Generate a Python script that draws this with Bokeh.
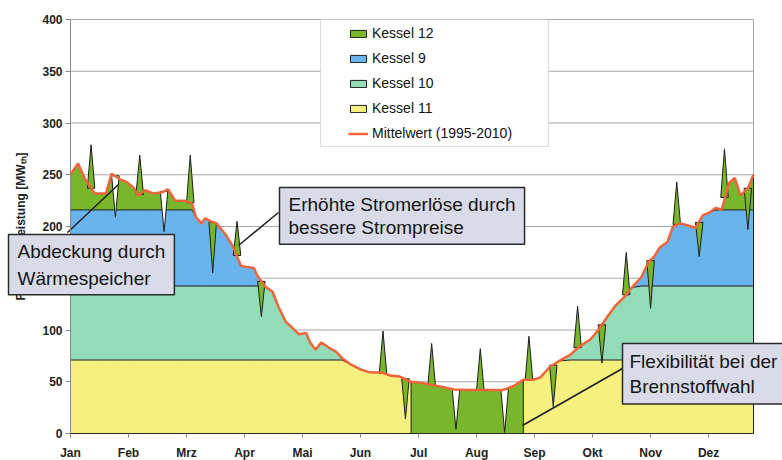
import numpy as np
from bokeh.plotting import figure
from bokeh.models import (Range1d, FixedTicker, Legend, LegendItem, Label,
                          BoxAnnotation)
from bokeh.embed import file_html
from bokeh.resources import INLINE

# ---------------- data ----------------
month_labels = ["Jan", "Feb", "Mrz", "Apr", "Mai", "Jun",
                "Jul", "Aug", "Sep", "Okt", "Nov", "Dez"]
month_ticks = [0, 31, 62, 93, 124, 155, 186, 217, 248, 279, 310, 341]
y_ticks = [0, 50, 100, 150, 200, 250, 300, 350, 400]

days = [0, 4, 8, 13, 19, 22, 27, 30, 34, 36, 40, 44, 49, 52, 56, 61, 65, 67,
        70, 72, 75, 78, 83, 87, 91, 94, 98, 100, 104, 108, 111, 115, 118, 122,
        126, 128, 131, 134, 138, 142, 145, 150, 155, 160, 166, 171, 176, 182,
        187, 196, 205, 214, 223, 231, 237, 242, 247, 251, 256, 261, 267, 272,
        278, 282, 287, 291, 296, 300, 305, 309, 312, 315, 319, 322, 326, 330,
        334, 338, 341, 345, 348, 352, 355, 358, 362, 365]
mittelwert = [250, 261, 245, 232, 232, 251, 245, 243, 237, 230, 235, 232, 233,
              236, 225, 225, 222, 209, 203, 208, 205, 203, 192, 180, 162, 161,
              160, 152, 142, 137, 123, 108, 103, 96, 97, 88, 81, 88, 83, 79, 73,
              66.5, 62, 59, 59, 56, 55, 50, 49, 46, 42.5, 42, 42, 42, 46, 52,
              52, 54, 64, 70, 76, 84, 91, 100, 113, 123, 132, 141, 151, 166,
              171, 180, 185, 200, 203, 201, 198.5, 211, 213, 218, 216, 242,
              247, 230, 237, 250]

# cumulative capacity levels of the base boilers
cap_k11 = 71
cap_k10 = 142.5
cap_k9 = 216
# summer period in which Kessel 12 carries the whole load
summer_start = 182
summer_end = 242

# Kessel 12 peaks above the mean load
up_day = [11, 37, 64, 89, 167, 193, 219, 245, 271, 297, 324, 349.5]
up_base = [237, 231, 223, 172, 58, 47, 42, 52, 83, 134, 202, 228]
up_peak = [279, 269, 269, 205, 99, 87, 82, 94, 123, 175, 243, 275]

# Kessel 12 replacing a base boiler for a day
sub_day = [76, 102, 179, 258, 284, 310, 336, 362]
sub_base = [204, 147, 53, 66, 105, 167, 204, 237]
sub_bottom = [155, 113, 14, 26, 68, 121, 171, 197]

# days covered by the heat storage
gap_day = [24, 50, 206, 232]
gap_base = [249, 234, 42.5, 42.5]
gap_bottom = [209, 195, 4, 1]

# ---------------- styles ----------------
C_K12 = "#78b62c"
C_K9 = "#6ab4ee"
C_K10 = "#92dcb8"
C_K11 = "#f6f07e"
C_LINE = "#f0643a"
C_EDGE = "#1e1e1e"
C_BOX = "#d9dbe8"
C_GRID = "#a8a8a8"
FONT = "Liberation Sans"
HW = 2.0  # half width of a one-day spike

W, H = 782, 460
# plot area (data 0..365 / 0..400) in canvas pixels
FL, FR, FT, FB = 70.0, 753.0, 19.0, 433.0
X0, X1 = 0.0, 365.0
Y0, Y1 = 0.0, 400.0
def dx(px):
    return X0 + (px - FL) / (FR - FL) * (X1 - X0)
def dy(py):
    return Y0 + (FB - py) / (FB - FT) * (Y1 - Y0)

p = figure(width=W, height=H, output_backend="svg", toolbar_location=None,
           x_range=Range1d(dx(0), dx(W)), y_range=Range1d(dy(H), dy(0)))
p.min_border_left = 0
p.min_border_right = 0
p.min_border_top = 0
p.min_border_bottom = 0
p.outline_line_color = None
p.background_fill_color = "white"
p.border_fill_color = "white"
p.xgrid.visible = False
p.ygrid.visible = False

# grid and right border of the plot area
p.segment(x0=[X0] * (len(y_ticks) - 1), y0=y_ticks[1:], x1=[X1] * (len(y_ticks) - 1),
          y1=y_ticks[1:], line_color=C_GRID, line_width=1)
p.segment(x0=[X1], y0=[Y0], x1=[X1], y1=[Y1], line_color=C_GRID, line_width=1)

d = np.array(days, dtype=float)
m = np.array(mittelwert, dtype=float)
t11 = np.minimum(m, cap_k11)
t10 = np.minimum(m, cap_k10)
t9 = np.minimum(m, cap_k9)

p.varea(x=d, y1=0, y2=t11, fill_color=C_K11)
p.varea(x=d, y1=t11, y2=t10, fill_color=C_K10)
p.varea(x=d, y1=t10, y2=t9, fill_color=C_K9)
p.varea(x=d, y1=t9, y2=m, fill_color=C_K12)
mask = (d >= summer_start) & (d <= summer_end)
p.varea(x=d[mask], y1=0, y2=m[mask], fill_color=C_K12)

for t in (t11, t10, t9):
    p.line(d, t, line_color=C_EDGE, line_width=1)

edge_x = [d[0], summer_start, summer_end, d[-1]]
edge_top = [m[0], m[days.index(summer_start)], m[days.index(summer_end)], m[-1]]
p.segment(x0=edge_x, y0=[0] * 4, x1=edge_x, y1=edge_top,
          line_color=C_EDGE, line_width=1)

p.patches([[x - HW, x, x + HW] for x in up_day],
          [[b, t, b] for b, t in zip(up_base, up_peak)],
          fill_color=C_K12, line_color=C_EDGE, line_width=1)
p.patches([[x - HW, x, x + HW] for x in sub_day],
          [[b, t, b] for b, t in zip(sub_base, sub_bottom)],
          fill_color=C_K12, line_color=C_EDGE, line_width=1)
p.patches([[x - HW, x, x + HW] for x in gap_day],
          [[b, t, b] for b, t in zip(gap_base, gap_bottom)],
          fill_color="white", line_color=C_EDGE, line_width=1)

line_r = p.line(d, m, line_color=C_LINE, line_width=2.5)

# ---------------- axes ----------------
p.xaxis.ticker = FixedTicker(ticks=month_ticks)
p.xaxis.major_label_overrides = {t: lab for t, lab in zip(month_ticks, month_labels)}
p.xaxis.fixed_location = Y0
p.xaxis.bounds = (X0, X1)
p.yaxis.ticker = FixedTicker(ticks=y_ticks)
p.yaxis.fixed_location = X0
p.yaxis.bounds = (Y0, Y1)
for ax in (p.xaxis[0], p.yaxis[0]):
    ax.major_label_text_font = FONT
    ax.major_label_text_font_style = "bold"
    ax.major_label_text_font_size = "12px"
    ax.major_label_text_color = "#222222"
    ax.minor_tick_line_color = None
    ax.major_tick_in = 0
    ax.major_tick_line_color = "#888888"
    ax.axis_line_color = "#888888"
p.xaxis.major_tick_out = 4
p.xaxis.major_label_standoff = 8
p.xaxis.axis_line_color = "#2a2a2a"
p.xaxis.axis_line_width = 1.2
p.yaxis.major_tick_out = 5
p.yaxis.major_label_standoff = 3
p.yaxis.axis_label = "Feuerungsleistung [MWₜₕ]"
p.yaxis.axis_label_text_font = FONT
p.yaxis.axis_label_text_font_style = "bold"
p.yaxis.axis_label_text_font_size = "12px"
p.yaxis.axis_label_text_color = "#222222"
p.yaxis.axis_label_standoff = 11

# ---------------- legend ----------------
p.add_layout(BoxAnnotation(left=dx(320), right=dx(548), top=dy(19), bottom=dy(146),
                           fill_color="white", fill_alpha=1.0,
                           line_color="#8a8a8a", line_width=1))
nan = [np.nan]
r12 = p.quad(left=nan, right=nan, top=nan, bottom=nan, fill_color=C_K12, line_color=C_EDGE)
r9 = p.quad(left=nan, right=nan, top=nan, bottom=nan, fill_color=C_K9, line_color=C_EDGE)
r10 = p.quad(left=nan, right=nan, top=nan, bottom=nan, fill_color=C_K10, line_color=C_EDGE)
r11 = p.quad(left=nan, right=nan, top=nan, bottom=nan, fill_color=C_K11, line_color=C_EDGE)
legend = Legend(items=[LegendItem(label="Kessel 12", renderers=[r12]),
                       LegendItem(label="Kessel 9", renderers=[r9]),
                       LegendItem(label="Kessel 10", renderers=[r10]),
                       LegendItem(label="Kessel 11", renderers=[r11]),
                       LegendItem(label="Mittelwert (1995-2010)", renderers=[line_r])],
                location=(348, 317), margin=0, padding=4, spacing=5,
                label_height=20, glyph_height=9, glyph_width=20, label_standoff=4,
                border_line_color=None, background_fill_alpha=0.0,
                label_text_font=FONT, label_text_font_size="14px",
                label_text_color="#111111")
p.add_layout(legend)

# ---------------- callouts ----------------
p.segment(x0=[dx(67), dx(278), dx(622)], y0=[dy(232), dy(212), dy(368)],
          x1=[dx(118), dx(238), dx(522)], y1=[dy(184), dy(245), dy(425)],
          line_color=C_EDGE, line_width=1.5)

callouts = [
    ("Abdeckung durch\nWärmespeicher", 8, 234, 1.3, (9, 6)),
    ("Erhöhte Stromerlöse durch\nbessere Strompreise", 279, 187, 1.13, (9, 6)),
    ("Flexibilität bei der\nBrennstoffwahl", 622, 343, 1.21, (7, 7)),
]
for text, px, py, lh, pad in callouts:
    p.add_layout(Label(x=dx(px), y=dy(py), text=text, text_align="left",
                       text_baseline="top", text_font=FONT,
                       text_font_size="19px", text_color="#151515",
                       text_line_height=lh, padding=pad,
                       background_fill_color=C_BOX, background_fill_alpha=1.0,
                       border_line_color="#2a2a2a", border_line_width=1.5))

open("out.html", "w").write(file_html(p, INLINE))
